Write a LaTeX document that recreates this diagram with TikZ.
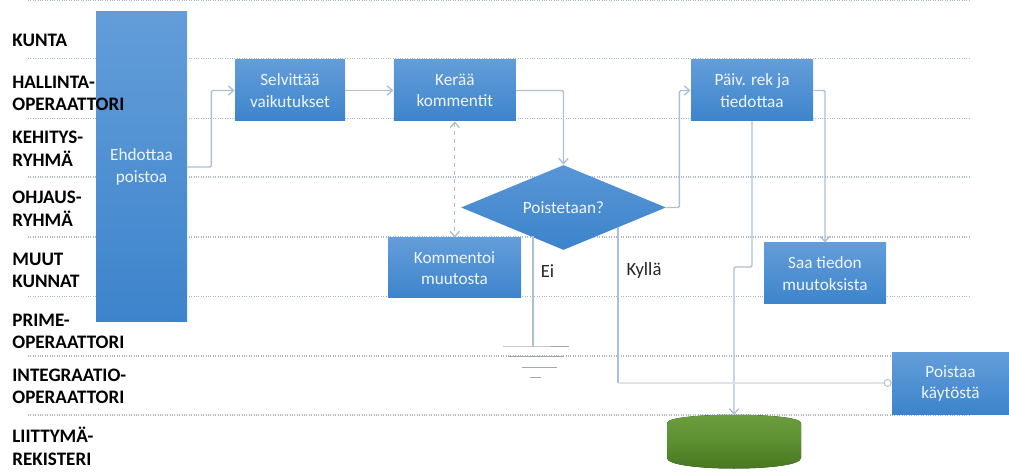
\documentclass[tikz,border=0pt]{standalone}
\usepackage{fontspec}
\setmainfont{Carlito}
\usetikzlibrary{positioning}
\usetikzlibrary{arrows.meta}
\usetikzlibrary{shapes.geometric}
\usetikzlibrary{calc}
\definecolor{lanegray}{HTML}{A9B8C6}
\definecolor{linkgray}{HTML}{AEBFD2}
\definecolor{linkpale}{HTML}{DDE3EA}
\definecolor{boxtop}{HTML}{639DD9}
\definecolor{boxbottom}{HTML}{3D84CC}
\definecolor{drumtop}{HTML}{6E9F40}
\definecolor{drumgreen}{HTML}{5B9030}
\definecolor{drumdark}{HTML}{47731F}
\definecolor{labelgray}{HTML}{262626}
\begin{document}
\begin{tikzpicture}[
            x = 0.75pt,
            y = -0.75pt,
            > = {Straight Barb[length=4pt,width=7pt]}, % open arrow head
            semithick, % line style
            lane/.style = {lanegray, thick, densely dotted},
            link/.style = {linkgray, line width = 1pt, rounded corners = 1pt},
            ruleline/.style = {gray!70, thin},
            process/.style = {
                rectangle,
                draw = none,
                top color = boxtop,
                bottom color = boxbottom,
                text = white!90!boxtop,
                align = center,
                font = \fontsize{12.9}{16.2}\selectfont
            },
            decision/.style = {
                diamond,
                aspect = 2.4,
                inner sep = 0pt,
                minimum width = 153.75pt,
                minimum height = 63.75pt,
                top color = boxtop!70!boxbottom,
                bottom color = boxbottom,
                text = white!90!boxtop,
                font = \fontsize{12.9}{16.2}\selectfont
            },
            role/.style = {
                anchor = west,
                inner sep = 0pt,
                align = left,
                text = black,
                font = \fontsize{14.3}{16.9}\selectfont\bfseries
            },
            answer/.style = {
                text = labelgray,
                inner sep = 0pt,
                font = \fontsize{14}{16}\selectfont
            }
        ]

        \useasboundingbox (0,0) rectangle (1009,473);

% swimlane borders
        \foreach \y in {0.5,58.5,118.5,177,237,296.5,356,415}
            \draw[lane] (28,\y) -- (971,\y);

% process boxes
        \node[process, minimum width = 68.25pt, minimum height = 232.5pt] (EHDOTTAA) at (141.5,167) {Ehdottaa\\poistoa};
        \node[process, minimum width = 82.5pt, minimum height = 45.75pt] (SELVITTAA) at (290,90.5) {Selvittää\\vaikutukset};
        \node[process, minimum width = 91.5pt, minimum height = 45.75pt] (KERAA) [right = 36pt of SELVITTAA] {Kerää\\kommentit};
        \node[process, minimum width = 91.5pt, minimum height = 45.75pt] (PAIVITA) at (752,90.5) {Päiv. rek ja\\tiedottaa};
        \node[process, minimum width = 99.75pt, minimum height = 45pt] (KOMMENTOI) at (454.5,268) {Kommentoi\\muutosta};
        \node[process, minimum width = 91.5pt, minimum height = 45.75pt] (SAA) at (825,273.5) {Saa tiedon\\muutoksista};
        \node[process, minimum width = 87.75pt, minimum height = 45.75pt] (POISTAA) at (950.5,383.5) {Poistaa\\käytöstä};
        \node[decision] (POISTETAAN) at (563.5,207.5) {Poistetaan?};

% register
        \fill[top color = drumtop, bottom color = drumdark, middle color = drumgreen]
            (667,423) .. controls (667,412) and (801,412) .. (801,423) -- (801,458)
            .. controls (801,472) and (667,472) .. (667,458) -- cycle;
        \coordinate (REKISTERI) at (734,415);

% connectors
        \coordinate (EITOP) at (533,236);
        \coordinate (EIEND) at (533,346);
        \coordinate (KYLLATOP) at (618,227);
        \coordinate (KYLLABEND) at (618,383);
        \coordinate (REKBEND) at (734,267);

        \draw[link,->] (EHDOTTAA.east) -- ++(24,0) |- (SELVITTAA.west);
        \draw[link,->] (SELVITTAA) -- (KERAA);
        \draw[link,->] (KERAA.east) -| (POISTETAAN.north);
        \draw[link,dashed,<->] (KERAA.south) -- (KERAA.south |- KOMMENTOI.north);
        \draw[link,->] (POISTETAAN.east) -- ++(13,0) |- (PAIVITA.west);
        \draw[link,->] (PAIVITA.east) -| (SAA.north);
        \draw[link,->] (PAIVITA.south) |- (REKBEND) -- (REKISTERI);
        \draw[link] (EITOP) -- (EIEND);
        \draw[link] (KYLLATOP) -- (KYLLABEND);
        \draw[link,linkpale,line width = 2pt,-{Circle[length=6pt,width=6pt,line width=0.7pt,color=linkgray,fill=white]}] (KYLLABEND) -- (KYLLABEND -| POISTAA.west);

% ground symbol
        \draw[ruleline] (503,346) -- (EIEND) -- (569,346);
        \draw[ruleline] (508,356.5) -- (563,356.5);
        \draw[ruleline] (522,367) -- (557,367);
        \draw[ruleline] (530,377) -- (541,377);

% answers
        \node[answer] (EI) at (547.5,271) {Ei};
        \node[answer] (KYLLA) at (644,271) {Kyllä};

% lane titles
        \node[role] (KUNTA) at (12,40) {KUNTA};
        \node[role] (HALLINTA) at (12,93.5) {HALLINTA-\\OPERAATTORI};
        \node[role] (KEHITYS) at (12,149) {KEHITYS-\\RYHMÄ};
        \node[role] (OHJAUS) at (12,209) {OHJAUS-\\RYHMÄ};
        \node[role] (MUUT) at (12,270.5) {MUUT\\KUNNAT};
        \node[role] (PRIME) at (12,331.5) {PRIME-\\OPERAATTORI};
        \node[role] (INTEGRAATIO) at (12,386.5) {INTEGRAATIO-\\OPERAATTORI};
        \node[role] (LIITTYMA) at (12,446.5) {LIITTYMÄ-\\REKISTERI};

\end{tikzpicture}
\end{document}
